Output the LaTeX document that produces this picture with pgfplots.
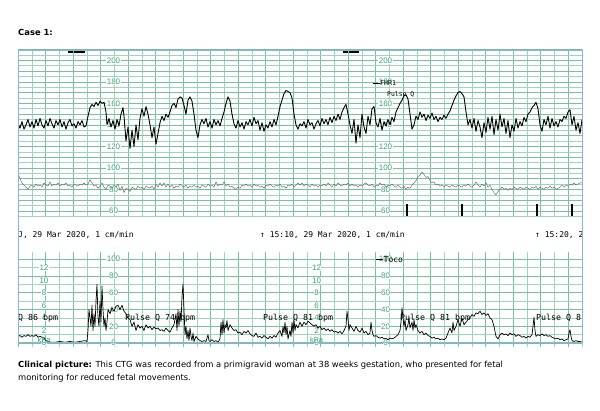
\documentclass[border=0pt]{standalone}
\usepackage{pgfplots}
\pgfplotsset{compat=1.18}
\usepackage{fontspec}
\setmainfont{Liberation Sans}
\newfontfamily\monof{DejaVu Sans Mono}
\newfontfamily\capf{DejaVu Sans}
\definecolor{gridg}{RGB}{120,192,158}
\definecolor{gridl}{RGB}{160,212,188}
\definecolor{txtg}{RGB}{55,165,110}
\definecolor{frameb}{RGB}{135,180,215}
\pgfplotsset{ctg/.style={
  scale only axis, width=564pt, xmin=18, xmax=582,
  axis line style={draw=none},
  xtick={18,45.5,...,582}, minor xtick={31.75,59.25,...,582},
  grid=both, major grid style={gridg,line width=0.5pt}, minor grid style={gridl,line width=0.45pt},
  xticklabels={}, yticklabels={}, major tick length=0pt, minor tick length=0pt,
  clip mode=individual, anchor=south west,
}}
\tikzset{glab/.style={text=txtg,fill=white,inner sep=0.5pt,font=\fontsize{8}{8}\selectfont},
  mlab/.style={anchor=west,inner sep=0pt,font=\monof\fontsize{8.3}{8}\selectfont}}
\begin{document}
\begin{tikzpicture}[x=1pt,y=1pt]
\path[use as bounding box] (0,0) rectangle (600,411);
\fill[white] (0,0) rectangle (600,411);
% heading
\node[anchor=base west,inner sep=0pt,font=\capf\bfseries\fontsize{8.4}{10}\selectfont] at (18,375) {Case 1:};
% top strip marks
\fill[black] (68,357.5) rectangle (85,360);
\fill[black] (343,357.5) rectangle (359,360);
% upper panel: FHR
\begin{axis}[ctg, at={(18,181)}, height=167pt, ymin=54.9, ymax=210.2,
  ytick={60,70,...,210}, minor ytick={55,65,...,205}]
\pgfplotsinvokeforeach{60,80,100,120,140,160,180,200}{
  \node[glab] at (axis cs:113.5,#1) {#1};
  \node[glab] at (axis cs:385.5,#1) {#1};
}
% maternal pulse
\addplot[gray!80!black, line width=0.45pt, line join=round] coordinates {
(18,95)(20,90)(22,86)(24,84)(26,82)(28,80)(30,83)(32,84)(34,82)(36,85)(38,83)(40,84)(42,82)(44,86)(46,84)(48,83)(50,87)(52,83)(54,85)(56,84)(58,86)(60,83)(62,85)(64,84)(66,86)(68,83)(70,84)(72,82)(74,85)(76,84)(78,83)(80,85)(82,84)(84,86)(86,84)(88,85)(90,89)(92,86)(94,83)(96,84)(98,81)(100,83)(102,86)(104,82)(106,80)(108,84)(110,83)(112,81)(114,84)(116,82)(118,85)(120,79)(122,83)(124,77)(126,81)(128,80)(130,78)(132,82)(134,81)(136,80)(138,83)(140,81)(142,82)(144,80)(146,83)(148,82)(150,81)(152,83)(154,80)(156,85)(158,82)(160,86)(162,83)(164,86)(166,82)(168,85)(170,82)(172,84)(174,81)(176,83)(178,82)(180,85)(182,83)(184,82)(186,84)(188,81)(190,83)(192,82)(194,84)(196,82)(198,83)(200,81)(202,84)(204,83)(206,82)(208,85)(210,83)(212,84)(214,82)(216,87)(218,83)(220,85)(222,84)(224,87)(226,83)(228,85)(230,82)(232,83)(234,81)(236,80)(238,82)(240,81)(242,84)(244,83)(246,85)(248,83)(250,84)(252,82)(254,85)(256,83)(258,84)(260,82)(262,83)(264,81)(266,84)(268,83)(270,85)(272,83)(274,82)(276,84)(278,83)(280,85)(282,82)(284,83)(286,81)(288,84)(290,83)(292,85)(294,82)(296,84)(298,86)(300,84)
(302,86)(304,83)(306,85)(308,84)(310,82)(312,85)(314,83)(316,84)(318,82)(320,84)(322,83)(324,85)(326,83)(328,86)(330,84)(332,82)(334,85)(336,83)(338,86)(340,84)(342,83)(344,85)(346,84)(348,86)(350,83)(352,85)(354,83)(356,84)(358,82)(360,84)(362,83)(364,85)(366,86)(368,84)(370,83)(372,85)(374,82)(376,84)(378,83)(380,86)(382,84)(384,85)(386,82)(388,84)(390,83)(392,85)(394,83)(396,82)(398,84)(400,82)(402,81)(404,83)(406,80)(408,82)(410,81)(412,84)(414,86)(416,88)(418,92)(420,93)(422,96)(424,94)(426,91)(428,92)(430,88)(432,86)(434,87)(436,84)(438,85)(440,83)(442,84)(444,82)(446,84)(448,83)(450,82)(452,84)(454,83)(456,82)(458,84)(460,83)(462,82)(464,84)(466,83)(468,85)(470,83)(472,82)(474,84)(476,87)(478,84)(480,82)(482,85)(484,83)(486,86)(488,82)(490,84)(492,80)(494,77)(496,75)(498,78)(500,80)(502,82)(504,80)(506,81)(508,79)(510,81)(512,80)(514,82)(516,81)(518,80)(520,82)(522,81)(524,80)(526,82)(528,81)(530,80)(532,82)(534,81)(536,83)(538,80)(540,82)(542,81)(544,80)(546,82)(548,81)(550,83)(552,81)(554,82)(556,80)(558,81)(560,82)(562,84)(564,82)(566,84)(568,83)(570,85)(572,84)(574,86)(576,84)(578,85)(580,86)(582,86)};
% FHR
\addplot[black, line width=0.9pt, line join=round] coordinates {
(18,141)(20,137)(22,143)(24,136)(26,140)(28,145)(30,138)(32,143)(34,137)(36,145)(38,139)(40,146)(42,140)(44,137)(46,144)(48,139)(50,146)(52,141)(54,137)(56,144)(58,140)(60,145)(62,138)(64,143)(66,136)(68,142)(70,145)(72,139)(74,141)(76,137)(78,143)(80,140)(82,144)(84,138)(86,139)
(88,148)(90,156)(92,159)(94,157)(96,161)(98,158)(100,162)(102,160)(104,161)(106,152)(107,140)(109,146)(111,138)(113,144)(115,136)(117,145)(119,139)(121,150)(123,156)(124,148)(126,125)(128,138)(130,118)(132,135)(134,120)(136,140)(138,126)(140,146)(142,155)(144,148)(146,157)(148,150)(150,140)(152,128)(154,138)(156,122)(158,132)(160,142)(162,148)(164,144)(166,150)(168,147)(170,152)(172,158)(174,160)(176,156)(178,164)(180,166)(182,165)(184,158)(186,150)(188,163)(190,166)(192,162)(194,150)(196,135)(198,128)(200,140)(202,145)(204,141)(206,146)(208,138)(210,143)(212,137)(214,145)(216,140)(218,144)(220,139)(222,146)(224,152)(226,160)(228,166)(230,162)(232,150)(234,141)(236,137)(238,144)(240,138)(242,142)(244,136)(246,143)(248,140)(250,145)(252,139)(254,147)(256,141)(258,144)(260,135)(262,142)(264,134)(266,140)(268,137)(270,143)(272,138)(274,145)(276,140)(278,148)(280,157)(282,163)(284,169)(286,172)(288,171)(290,170)(292,165)(294,150)(296,140)(298,136)(300,141)
(302,139)(304,143)(306,137)(308,145)(310,140)(312,142)(314,136)(316,141)(318,144)(320,139)(322,146)(324,141)(326,145)(328,140)(330,147)(332,142)(334,148)(336,144)(338,150)(340,145)(342,152)(344,156)(346,159)(348,150)(350,140)(352,132)(354,145)(356,123)(358,140)(360,128)(362,150)(364,138)(366,132)(368,148)(370,140)(372,155)(374,157)(376,142)(378,138)(380,146)(382,135)(384,143)(386,139)(388,145)(390,140)(392,147)(394,143)(396,152)(398,156)(400,160)(402,163)(404,167)(406,168)(408,164)(410,150)(412,136)(414,140)(416,148)(418,145)(420,152)(422,147)(424,150)(426,144)(428,149)(430,146)(432,151)(434,145)(436,148)(438,143)(440,147)(442,145)(444,149)(446,146)(448,150)(450,153)(452,158)(454,163)(456,167)(458,170)(460,171)(462,169)(464,166)(466,152)(468,140)(470,145)(472,137)(474,146)(476,134)(478,144)(480,138)(482,128)(484,142)(486,133)(488,147)(490,136)(492,148)(494,131)(496,145)(498,135)(500,150)(502,138)(504,146)(506,132)(508,144)(510,128)(512,140)(514,134)(516,146)(518,137)(520,143)(522,139)(524,147)(526,143)(528,150)(530,152)(532,156)(534,158)(536,161)(538,155)(540,140)(542,134)(544,145)(546,140)(548,148)(550,137)(552,146)(554,139)(556,143)(558,138)(560,145)(562,143)(564,148)(566,146)(568,152)(570,154)(572,140)(574,148)(576,135)(578,142)(580,132)(582,145)};
% event marks
\addplot[black, line width=1.8pt, unbounded coords=jump] coordinates {
(407,55)(407,66) (407,nan) (462,55)(462,66) (462,nan) (537,55)(537,66) (537,nan) (572,55)(572,66)};
\end{axis}
% legend upper
\draw[black,line width=1pt] (373,327.5) -- (380,327.5);
\node[anchor=west,inner sep=0pt,font=\monof\fontsize{6.6}{7}\selectfont] at (380,327.5) {FHR1};
\node[anchor=west,inner sep=0pt,font=\monof\fontsize{6.4}{7}\selectfont] at (387,317) {Pulse Q};
% date strip
\node[mlab,font=\monof\fontsize{8}{8}\selectfont,anchor=base west] at (18,173.5) {J, 29 Mar 2020, 1 cm/min};
\node[mlab,font=\monof\fontsize{8}{8}\selectfont,anchor=base west] at (260,173.5) {↑ 15:10, 29 Mar 2020, 1 cm/min};
\node[mlab,font=\monof\fontsize{8}{8}\selectfont,anchor=base west] at (535,173.5) {↑ 15:20, 2};
% lower panel: Toco
\begin{axis}[ctg, at={(18,76)}, height=95pt, ymin=-4.8, ymax=108.3,
  ytick={0,20,...,100}, minor ytick={10,30,...,90}]
\pgfplotsinvokeforeach{0,20,40,60,80,100}{
  \node[glab] at (axis cs:113.5,#1) {#1};
  \node[glab] at (axis cs:385.5,#1) {#1};
}
\pgfplotsinvokeforeach{0,2,4,6,8,10,12}{
  \node[glab] at (axis cs:44,#1*7.44) {#1};
  \node[glab] at (axis cs:316.5,#1*7.44) {#1};
}
\addplot[black, line width=0.7pt, line join=round] coordinates {
(18,8)(20,9)(22,7)(24,9)(26,8)(28,10)(30,8)(32,9)(34,8)(36,10)(38,7)(40,8)(42,7)(44,6)(46,3)(48,2)(50,1)(55,1)(60,2)(65,1)(70,2)(75,1)(80,2)(85,3)(87,2)(88,15)(89,40)(90,30)(91,20)(92,45)(93,15)(94,35)(95,20)(96,50)(97,70)(98,30)(99,20)(100,50)(101,25)(102,68)(103,40)(104,20)(105,30)(106,15)(107,25)(108,40)(110,35)(112,42)(114,38)(116,44)(118,45)(120,40)(122,45)(124,38)(126,35)(128,30)(130,28)(132,20)(134,25)(136,15)(138,22)(140,18)(142,20)(144,15)(146,22)(148,18)(150,20)(152,16)(154,19)(156,17)(158,18)(160,15)(162,16)(164,14)(166,18)(168,15)(170,13)(172,18)(174,22)(176,35)(177,15)(178,40)(179,20)(180,38)(181,25)(182,55)(183,70)(184,40)(185,10)(186,20)(187,5)(188,15)(189,3)(190,18)(191,8)(192,3)(193,12)(194,2)(196,8)(198,5)(200,3)(202,2)(204,3)(206,2)(208,10)(209,3)(210,2)(212,4)(214,2)(216,3)(218,1)(220,5)(221,25)(222,10)(223,28)(224,12)(225,22)(226,18)(227,27)(228,15)(230,22)(232,18)(234,15)(236,16)(238,12)(240,13)(242,10)(244,14)(246,12)(248,15)(250,11)(252,9)(254,8)(256,12)(258,7)(260,8)(262,6)(264,9)(266,7)(268,5)(270,8)(272,6)(274,9)(276,7)(278,12)(280,15)(282,8)(283,20)(284,12)(285,25)(286,10)(287,20)(288,5)(290,15)(291,8)(292,25)(293,12)(294,28)(295,15)(296,22)(298,18)(300,25)
(302,20)(304,25)(306,22)(308,26)(310,24)(312,22)(314,20)(316,22)(318,18)(320,20)(322,16)(324,18)(326,15)(328,17)(330,14)(332,16)(334,13)(336,14)(338,12)(340,14)(342,11)(344,15)(346,20)(347,38)(348,28)(349,15)(350,22)(352,18)(354,14)(356,20)(358,15)(360,13)(362,18)(364,12)(366,14)(368,10)(370,12)(371,25)(372,15)(373,10)(374,8)(376,9)(378,7)(380,6)(382,7)(384,5)(386,6)(388,4)(390,6)(392,5)(394,6)(396,8)(398,10)(400,15)(401,25)(402,42)(403,30)(404,20)(405,28)(406,15)(408,22)(409,30)(410,18)(412,25)(413,15)(414,28)(415,18)(416,22)(418,15)(420,12)(422,14)(424,10)(426,12)(428,9)(430,8)(432,6)(434,7)(436,5)(438,6)(440,4)(442,5)(444,4)(446,6)(448,12)(450,18)(452,12)(453,25)(454,15)(456,20)(458,28)(460,20)(462,30)(464,22)(466,25)(468,28)(470,30)(472,34)(474,32)(476,36)(478,35)(480,38)(482,34)(484,36)(486,33)(488,35)(490,30)(492,28)(494,20)(496,8)(498,5)(500,10)(502,12)(504,10)(506,11)(508,9)(510,12)(512,10)(514,11)(516,8)(518,10)(520,9)(522,7)(524,8)(526,6)(528,8)(530,7)(532,10)(533,20)(534,31)(535,15)(536,8)(538,10)(540,9)(542,11)(544,9)(546,10)(548,8)(550,9)(552,7)(554,6)(556,5)(558,6)(560,4)(562,5)(564,3)(566,4)(568,5)(569,12)(570,16)(571,8)(572,3)(574,2)(576,3)(578,2)(580,2)(582,1)};
\node[mlab] at (axis cs:18,29.8) {Q 86 bpm};
\node[mlab] at (axis cs:125,29.8) {Pulse Q 74 bpm};
\node[mlab] at (axis cs:263,29.8) {Pulse Q 81 bpm};
\node[mlab] at (axis cs:400,29.8) {Pulse Q 81 bpm};
\node[mlab] at (axis cs:536,29.8) {Pulse Q 8};
\end{axis}
\draw[black,line width=1pt] (376,151) -- (383,151);
\node[anchor=west,inner sep=0pt,font=\monof\fontsize{8}{8}\selectfont] at (383.5,151) {Toco};
\node[text=txtg,inner sep=0pt,font=\fontsize{7.5}{8}\selectfont] at (44,71.5) {kPa};
\node[text=txtg,inner sep=0pt,font=\fontsize{7.5}{8}\selectfont] at (316.5,71.5) {kPa};
% frame
\draw[frameb,line width=0.9pt] (18,69) rectangle (582,361);
% caption
\node[anchor=base west,inner sep=0pt,font=\capf\fontsize{8.35}{10}\selectfont] at (18,43.5) {\textbf{Clinical picture:} This CTG was recorded from a primigravid woman at 38 weeks gestation, who presented for fetal};
\node[anchor=base west,inner sep=0pt,font=\capf\fontsize{8.35}{10}\selectfont] at (18,30.5) {monitoring for reduced fetal movements.};
\end{tikzpicture}
\end{document}
